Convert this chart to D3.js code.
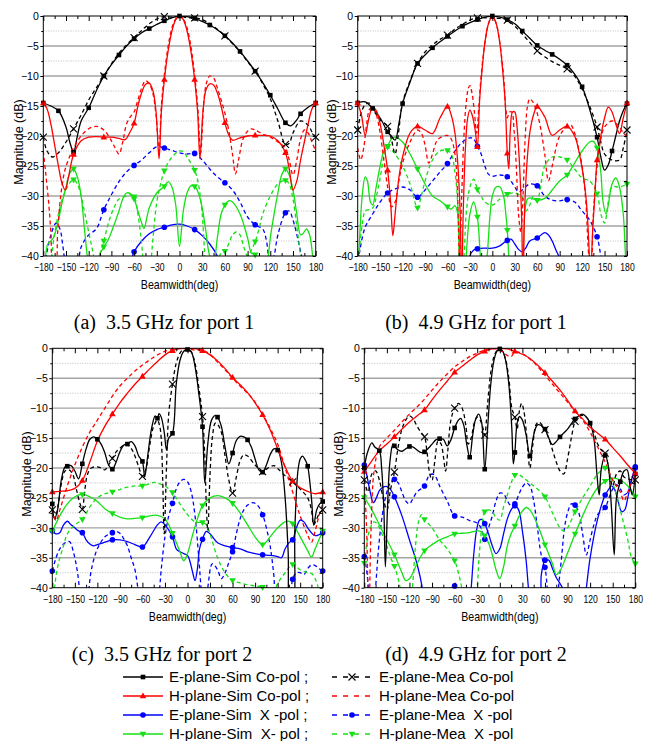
<!DOCTYPE html>
<html><head><meta charset="utf-8">
<script src="https://cdn.jsdelivr.net/npm/d3@7"></script>
<style>
html,body{margin:0;padding:0;background:#fff;}
svg{display:block;font-family:"Liberation Sans",Arial,sans-serif;}
text{white-space:pre;}
</style></head><body>
<svg id="chart" width="648" height="741"></svg>
<script>
// ---------- axis tick values ----------
const xTicks = [-180,-150,-120,-90,-60,-30,0,30,60,90,120,150,180];
const xMinorTicks = [-165,-135,-105,-75,-45,-15,15,45,75,105,135,165];
const yTicks = [0,-5,-10,-15,-20,-25,-30,-35,-40];
const yMinorTicks = [-2.5,-7.5,-12.5,-17.5,-22.5,-27.5,-32.5,-37.5];
const captions = ["(a)  3.5 GHz for port 1","(b)  4.9 GHz for port 1","(c)  3.5 GHz for port 2","(d)  4.9 GHz for port 2"];
const seriesNames = ["E-plane-Sim Co-pol ;","E-plane-Mea Co-pol","H-plane-Sim Co-pol ;","H-plane-Mea Co-pol","E-plane-Sim  X -pol ;","E-plane-Mea  X -pol","H-plane-Sim  X- pol ;","H-plane-Mea  X -pol"];

// ---------- panel (a) 3.5 GHz port 1 ----------
const a_ESimCo = [[-180,-14.5],[-170,-15],[-160,-15.8],[-150,-18.5],[-145,-21],[-140,-22.7],[-135,-20],[-130,-17.5],[-120,-15.3],[-110,-12.5],[-100,-10],[-90,-8.1],[-80,-6.5],[-70,-5],[-60,-3.8],[-50,-2.8],[-40,-2.1],[-30,-1.4],[-20,-0.8],[-10,-0.3],[0,0],[10,-0.1],[20,-0.4],[30,-0.9],[40,-1.5],[50,-2.3],[60,-3.3],[70,-4.5],[80,-5.9],[90,-7.5],[100,-9.2],[110,-11.1],[120,-13.2],[130,-15.5],[140,-17.8],[147,-18.3],[155,-17.3],[160,-16.3],[170,-15.2],[180,-14.5]];
const a_EMeaCo = [[-180,-20.2],[-175,-22.5],[-168,-23.5],[-160,-22.8],[-150,-21],[-140,-18.8],[-130,-16.5],[-120,-14],[-110,-12],[-100,-10],[-90,-8],[-80,-6.2],[-70,-4.8],[-60,-3.6],[-50,-2.4],[-40,-1.3],[-30,-0.5],[-20,-0.1],[-10,-0.2],[0,0],[10,-0.3],[20,-0.3],[30,-0.6],[40,-1.3],[50,-2.2],[60,-3.3],[70,-4.6],[80,-6],[90,-7.6],[100,-9.2],[110,-11.3],[120,-13.8],[130,-17.5],[140,-21.4],[145,-21.2],[150,-19.5],[160,-17.5],[170,-18.2],[175,-19.3],[180,-20.2]];
const a_HSimCo = [[-180,-14.5],[-175,-15.5],[-170,-18],[-165,-21.5],[-160,-25],[-155,-28],[-151,-29],[-147,-27],[-140,-23.1],[-130,-20.8],[-120,-20.2],[-110,-20.1],[-100,-20.2],[-90,-20.2],[-80,-20.4],[-72,-20.6],[-66,-19.5],[-60,-17.9],[-55,-15],[-50,-12.8],[-45,-11.4],[-40,-11.2],[-35,-12.5],[-31,-16],[-27,-23.8],[-24,-16],[-20,-10.6],[-15,-5.8],[-10,-2.5],[-5,-0.6],[0,0],[5,-0.6],[10,-2.5],[15,-5.8],[20,-10.6],[24,-16],[27,-23.8],[31,-16],[35,-12.3],[40,-11.3],[45,-11.5],[50,-12.8],[55,-15],[60,-17.8],[65,-19.8],[70,-20.7],[80,-20.3],[90,-20],[100,-19.9],[110,-19.9],[120,-20],[130,-20.8],[140,-22.8],[145,-25.5],[150,-29],[155,-27.5],[160,-24],[165,-21],[170,-18],[175,-15.5],[180,-14.5]];
const a_HMeaCo = [[-180,-22.5],[-177,-26],[-173,-31],[-170,-36],[-167,-42],[-164,-42],[-161,-36],[-157,-30],[-152,-26],[-147,-24],[-140,-22],[-130,-20],[-120,-18.8],[-110,-18.4],[-100,-19],[-90,-20.8],[-85,-22],[-80,-23],[-75,-21],[-70,-18],[-65,-16.8],[-60,-16],[-55,-14],[-50,-12],[-45,-10.8],[-40,-11.3],[-35,-13],[-31,-16.5],[-27,-22.5],[-24,-15],[-20,-9.8],[-15,-5],[-10,-2],[-5,-0.5],[0,0],[5,-0.5],[10,-2],[15,-5],[20,-9.8],[24,-15],[28,-22.8],[32,-14.5],[36,-11],[40,-10],[45,-10.3],[50,-12],[55,-14],[60,-16.2],[65,-19],[70,-23],[74,-26.3],[78,-24],[84,-20.5],[90,-19.2],[95,-18.8],[100,-19],[110,-19.7],[120,-20.2],[130,-21],[140,-22],[145,-24],[150,-26.5],[155,-24],[160,-20.5],[165,-19],[170,-19.5],[175,-21],[180,-22.5]];
const a_ESimX = [[-70,-44],[-62,-40],[-60,-39.3],[-50,-37.5],[-40,-36.3],[-30,-35.6],[-20,-35.2],[-10,-34.8],[0,-34.7],[10,-35],[20,-35.6],[30,-36.6],[40,-38],[50,-40],[55,-42],[60,-45]];
const a_EMeaX = [[-180,-44],[-176,-40],[-170,-36.5],[-163,-34.5],[-158,-35.5],[-154,-38.5],[-150,-42],[-140,-46],[-134,-42],[-130,-38.5],[-120,-36.5],[-110,-35.5],[-100,-32.3],[-90,-29.8],[-80,-27.6],[-70,-26],[-60,-24.9],[-50,-24],[-40,-22.8],[-30,-21.8],[-20,-22],[-10,-22.4],[0,-22.8],[10,-23],[20,-22.9],[30,-24],[40,-25.5],[50,-26.8],[60,-27.8],[70,-29],[80,-31],[90,-33.5],[100,-34.8],[110,-35.5],[115,-37.5],[120,-42],[125,-40],[130,-36.5],[140,-32.8],[145,-32.5],[150,-34],[157,-37.5],[163,-41],[170,-45],[180,-45]];
const a_HSimX = [[-180,-44],[-177,-40],[-174,-38],[-170,-37.5],[-166,-36.8],[-160,-34],[-155,-31],[-150,-28.5],[-145,-26.2],[-140,-25.5],[-135,-26.8],[-130,-30],[-126,-35],[-122,-40],[-118,-45],[-110,-45],[-106,-40],[-100,-38.5],[-95,-37.5],[-90,-36],[-80,-32.5],[-75,-30.5],[-70,-29.5],[-65,-29.6],[-60,-30.5],[-55,-32.5],[-50,-34.5],[-47,-35.4],[-43,-33.5],[-40,-32],[-30,-29.5],[-20,-28.4],[-15,-27.6],[-10,-28.5],[-5,-31.5],[0,-38.4],[5,-32.5],[10,-29.5],[15,-28.3],[20,-28.4],[25,-29.5],[30,-32],[35,-36],[40,-40],[45,-41],[50,-37],[55,-33],[60,-31.5],[65,-30.8],[70,-31],[80,-33],[90,-37],[95,-39.5],[100,-39.8],[105,-40.5],[112,-45],[117,-40.5],[120,-37],[125,-33],[130,-29.5],[135,-26.5],[140,-25.5],[145,-26.5],[150,-29],[155,-33],[160,-36.5],[163,-36.3],[168,-35.5],[172,-36.5],[176,-40],[180,-44]];
const a_HMeaX = [[-180,-46],[-170,-41],[-166,-37],[-160,-33],[-155,-30.5],[-150,-29],[-145,-27.8],[-140,-27.3],[-135,-28],[-130,-30],[-125,-33],[-120,-36],[-115,-39],[-110,-42],[-106,-40],[-100,-37.5],[-95,-35],[-90,-33],[-85,-31.5],[-80,-30.5],[-70,-30],[-65,-29.8],[-60,-30.1],[-55,-33],[-50,-38],[-48,-41],[-44,-45],[-38,-41],[-35,-37],[-30,-31],[-25,-28],[-20,-25.8],[-10,-23.5],[0,-22.5],[5,-22.6],[10,-23.5],[20,-25.7],[25,-28],[30,-33],[33,-39],[36,-44],[45,-44],[50,-41.5],[55,-39.5],[60,-39.2],[65,-38],[70,-36.5],[75,-36],[80,-36.5],[85,-38.5],[90,-40],[95,-39],[100,-37.6],[105,-35.5],[110,-33],[120,-30],[130,-28],[140,-27.4],[145,-28],[150,-30.5],[155,-35],[160,-40],[165,-44]];

// ---------- panel (b) 4.9 GHz port 1 ----------
const b_ESimCo = [[-180,-14.5],[-170,-14.3],[-160,-15.4],[-150,-17],[-140,-19.3],[-135,-20],[-130,-20.7],[-125,-18],[-120,-14.6],[-110,-11],[-100,-7.9],[-90,-6.5],[-80,-5.3],[-70,-4.3],[-60,-3.4],[-50,-2.5],[-40,-1.7],[-30,-1.1],[-20,-0.6],[-10,-0.2],[0,0],[10,-0.2],[20,-0.6],[30,-1.3],[40,-2.5],[50,-3.7],[60,-4.9],[70,-5.7],[80,-6.4],[90,-7.2],[100,-8.2],[110,-9.7],[120,-11.8],[130,-15.5],[140,-20.2],[145,-23.5],[150,-25.7],[155,-24.8],[160,-22.5],[165,-20],[170,-17.5],[175,-15.8],[180,-14.6]];
const b_EMeaCo = [[-180,-19],[-175,-16],[-170,-14.8],[-165,-14.5],[-160,-15.5],[-150,-17.3],[-140,-18.4],[-135,-20.5],[-130,-23],[-126,-20],[-120,-14.5],[-110,-10.8],[-100,-7.9],[-90,-6],[-80,-4.8],[-70,-3.9],[-60,-3.2],[-50,-2.2],[-40,-1.4],[-30,-0.7],[-20,-0.3],[-10,-0.3],[0,-0.4],[10,-0.4],[20,-0.7],[30,-1.7],[40,-3],[50,-4.4],[60,-5.8],[70,-6.8],[80,-7.6],[90,-8.2],[100,-8.8],[110,-10],[120,-12.2],[130,-15],[140,-18.5],[145,-21],[150,-23],[160,-24],[170,-24],[175,-22],[180,-19]];
const b_HSimCo = [[-180,-14.5],[-175,-16.5],[-170,-19.9],[-165,-17],[-160,-15.2],[-155,-15.8],[-150,-18],[-145,-21.5],[-140,-25.7],[-136,-31],[-133,-36.6],[-130,-33],[-125,-27],[-120,-23.5],[-110,-19.5],[-100,-18.4],[-90,-19],[-80,-19.6],[-70,-17],[-60,-15.1],[-55,-16.5],[-50,-19.5],[-46,-25],[-43,-33],[-41,-45],[-39,-33],[-36,-22],[-33,-17],[-30,-15.7],[-27,-16.5],[-23,-19],[-20,-21.8],[-17,-14],[-13,-8],[-10,-4.5],[-5,-1.2],[0,0],[5,-1.2],[10,-4.5],[13,-8],[17,-14],[20,-22.9],[22,-25.5],[24,-19],[27,-16],[30,-16],[33,-18.5],[36,-24],[39,-33],[41,-45],[43,-33],[46,-25],[50,-19.5],[55,-16.5],[60,-15.1],[70,-16.8],[80,-19.9],[90,-19],[100,-18.4],[110,-20],[118,-24],[125,-30],[129,-38],[131,-45],[134,-36],[137,-30],[140,-24],[145,-20],[150,-17],[155,-15.2],[160,-16],[165,-18],[170,-19.6],[175,-17],[180,-14.5]];
const b_HMeaCo = [[-180,-22],[-176,-24],[-172,-22],[-168,-18],[-164,-15.5],[-160,-15.2],[-155,-16.5],[-150,-19.5],[-145,-24],[-140,-28.5],[-135,-31.8],[-130,-31],[-125,-27.5],[-120,-24.5],[-110,-21],[-100,-19],[-95,-19.5],[-90,-21.5],[-85,-24.5],[-80,-23],[-75,-21],[-70,-20.3],[-60,-19.9],[-55,-20.5],[-50,-23],[-47,-28],[-44,-40],[-41,-30],[-38,-20],[-35,-14.5],[-32,-12],[-30,-11.6],[-27,-13],[-24,-16],[-21,-19.5],[-18,-15],[-15,-10],[-10,-4.5],[-5,-1.2],[0,0],[5,-1.2],[10,-4.5],[15,-10],[18,-15.5],[20,-17],[23,-16],[26,-16],[29,-19],[32,-25],[35,-33],[38,-36],[41,-30],[44,-20],[47,-15],[50,-13.8],[55,-14.5],[60,-16.2],[65,-19],[70,-23],[75,-27.5],[80,-25],[90,-20],[100,-18.4],[105,-18.2],[110,-19.5],[115,-22],[120,-25],[125,-31],[129,-40],[132,-42],[135,-33],[140,-25],[145,-20.5],[150,-18.5],[160,-17.5],[170,-18.5],[175,-19.5],[180,-20]];
const b_ESimX = [[-35,-45],[-30,-40],[-25,-39],[-20,-38.8],[-10,-38.7],[0,-38.7],[10,-38.3],[20,-37.4],[25,-37.2],[30,-38],[35,-38.9],[40,-39.3],[45,-38.6],[50,-37.5],[60,-37],[70,-36.1],[75,-36.5],[80,-37.5],[85,-39],[90,-40.5],[95,-45]];
const b_EMeaX = [[-180,-42],[-177,-39],[-170,-35.2],[-160,-33],[-150,-31],[-140,-29.5],[-130,-28.8],[-120,-28.5],[-110,-29],[-100,-30.2],[-90,-29],[-80,-27.5],[-70,-26],[-60,-24.6],[-50,-22.5],[-40,-21],[-30,-20.3],[-25,-20.5],[-20,-21.7],[-15,-23],[-10,-25],[-5,-26.4],[0,-26.7],[10,-26.5],[20,-26.8],[25,-27.5],[30,-28.5],[35,-29.3],[40,-29],[50,-28],[60,-28.3],[70,-30],[80,-30.7],[90,-30.8],[100,-30.6],[110,-31],[120,-32.5],[130,-34],[140,-36.8],[145,-40],[150,-44]];
const b_HSimX = [[-180,-44],[-177,-36],[-174,-30],[-170,-26.8],[-167,-27.5],[-163,-31],[-160,-31.5],[-156,-29],[-150,-25],[-145,-22.5],[-140,-21.7],[-135,-20.5],[-130,-20.2],[-120,-21],[-110,-23],[-100,-25.5],[-90,-28],[-80,-30],[-70,-30.8],[-60,-31.8],[-55,-32.2],[-50,-31.6],[-47,-32.5],[-44,-36],[-42,-45],[-38,-45],[-35,-40],[-30,-33],[-25,-31],[-20,-33.5],[-16,-40],[-12,-45],[-7,-40],[-3,-33],[0,-30],[5,-28.5],[10,-28.5],[15,-30],[18,-33],[20,-35.7],[22,-40],[25,-45],[38,-45],[41,-40],[44,-32],[47,-30.5],[50,-30.3],[60,-30.7],[70,-30.4],[80,-29],[90,-27.5],[100,-26.5],[110,-24.5],[120,-22.5],[130,-21],[135,-20.9],[140,-22],[145,-26],[148,-31],[152,-33],[155,-31.5],[160,-28],[165,-27],[170,-28.5],[175,-33],[178,-40],[180,-44]];
const b_HMeaX = [[-180,-44],[-177,-38],[-173,-34],[-170,-32.5],[-160,-32],[-155,-30],[-150,-27],[-145,-23.5],[-140,-21.8],[-135,-22.3],[-130,-23],[-120,-25],[-110,-28],[-100,-32],[-95,-30],[-90,-27.5],[-80,-24],[-70,-22.5],[-60,-22.4],[-55,-23],[-50,-26],[-46,-32],[-43,-45],[-38,-40],[-35,-33],[-30,-28.5],[-25,-27.2],[-20,-28.9],[-15,-30],[-10,-31],[0,-31.5],[10,-30.5],[20,-29.7],[30,-29.5],[40,-30.2],[45,-32.5],[50,-31.5],[55,-30],[60,-30.7],[65,-28],[70,-25],[80,-23.5],[90,-23.5],[100,-24],[110,-25.5],[120,-27],[130,-27.5],[140,-29.6],[145,-33],[150,-34.5],[155,-31],[160,-28.5],[170,-28.5],[180,-28]];

// ---------- panel (c) 3.5 GHz port 2 ----------
const c_ESimCo = [[-180,-26],[-177,-28.5],[-173,-27],[-168,-22],[-163,-19.8],[-160,-19.7],[-155,-19.6],[-150,-20.5],[-145,-21.8],[-140,-19.3],[-135,-16.8],[-130,-15.2],[-125,-14.8],[-120,-15.2],[-115,-16],[-110,-17.5],[-105,-19.5],[-100,-20.2],[-95,-19],[-90,-17.3],[-85,-16.2],[-80,-16],[-75,-15.6],[-70,-16.3],[-65,-18],[-60,-18.9],[-57,-21.5],[-53,-18],[-48,-13.5],[-43,-11.3],[-40,-11.7],[-38,-10.9],[-35,-11.5],[-31,-14],[-28,-17],[-25,-15],[-20,-14.2],[-15,-6],[-10,-2],[-5,-0.5],[0,-0.2],[5,-0.6],[10,-3],[15,-7.5],[20,-13.1],[23,-22.5],[27,-16],[32,-12],[37,-11.2],[40,-11.5],[45,-13],[50,-16.5],[55,-19.3],[60,-17.5],[65,-15.4],[70,-14.7],[75,-14.8],[80,-15.3],[85,-16.5],[90,-18.5],[95,-20.3],[100,-20.7],[105,-19.5],[110,-17.8],[115,-16.8],[120,-17],[125,-19],[130,-25],[134,-34],[137,-45],[140,-45],[143,-30],[147,-20.5],[150,-18.5],[153,-18],[157,-18.7],[160,-19.7],[165,-25],[168,-29.5],[172,-27],[176,-26],[180,-25.6]];
const c_EMeaCo = [[-180,-27],[-176,-28.5],[-172,-26],[-167,-22],[-163,-20.5],[-158,-20.3],[-153,-21],[-148,-23.5],[-143,-26],[-140,-26.9],[-137,-24],[-133,-21],[-128,-20],[-120,-19.8],[-115,-20],[-110,-20.3],[-105,-19.5],[-100,-18.4],[-95,-17.3],[-90,-16.7],[-85,-16.2],[-80,-16.1],[-75,-16.7],[-70,-18],[-65,-19.8],[-60,-21.4],[-55,-20],[-50,-16],[-45,-13],[-40,-12],[-37,-13],[-35,-15],[-33,-22],[-31,-31],[-28,-20],[-25,-11],[-20,-6],[-15,-2.5],[-10,-0.8],[-5,-0.1],[0,0],[5,-0.6],[10,-2.5],[15,-6.5],[20,-11.4],[23,-18],[25,-26],[27,-30.5],[30,-21],[33,-15],[37,-12.5],[40,-12.7],[45,-14],[50,-18],[55,-22],[60,-24.2],[65,-21.5],[70,-18.8],[75,-17.8],[80,-18],[90,-19.5],[100,-20.6],[105,-20.2],[110,-19.8],[115,-19.6],[120,-20.1],[130,-21.3],[140,-22.3],[150,-23.5],[160,-25],[165,-27],[168,-29.5],[172,-28.5],[176,-27.5],[180,-27]];
const c_HSimCo = [[-180,-24],[-170,-23.9],[-160,-23.8],[-150,-23.4],[-140,-22.1],[-130,-19],[-120,-15.5],[-110,-13],[-100,-11],[-90,-9.1],[-80,-7.5],[-70,-6],[-60,-4.7],[-50,-3.4],[-40,-2.2],[-30,-1.1],[-20,-0.4],[-10,-0.05],[0,0],[10,-0.05],[20,-0.4],[30,-1.1],[40,-2.1],[50,-3.4],[60,-4.9],[70,-6.1],[80,-7.4],[90,-9.1],[100,-11.1],[110,-13.6],[120,-16.8],[130,-19.8],[140,-22.2],[150,-23.3],[160,-23.9],[170,-24.3],[180,-24]];
const c_HMeaCo = [[-180,-27],[-175,-28.8],[-170,-27],[-160,-23],[-150,-19.5],[-140,-16.5],[-130,-14],[-120,-12],[-110,-10],[-100,-8],[-90,-6.3],[-80,-5],[-70,-3.8],[-60,-2.8],[-50,-1.9],[-40,-1.1],[-30,-0.5],[-20,-0.2],[-10,0],[0,-0.1],[10,-0.3],[20,-0.3],[30,-1],[40,-2.3],[50,-3.6],[60,-5],[70,-6.3],[80,-7.5],[90,-9],[100,-11],[110,-13.3],[120,-16],[130,-20],[140,-24],[150,-28],[160,-31.2],[165,-32.4],[170,-30.5],[175,-28],[180,-26]];
const c_ESimX = [[-180,-30.5],[-175,-31],[-170,-30.8],[-165,-29.5],[-160,-28.9],[-155,-29.5],[-150,-30],[-145,-30.5],[-140,-30.8],[-135,-32],[-130,-32.7],[-125,-33],[-120,-32.8],[-110,-32.4],[-100,-32],[-90,-32],[-80,-32.3],[-70,-32.8],[-60,-33.2],[-50,-31.5],[-40,-29.5],[-35,-29],[-30,-29.5],[-20,-31.5],[-15,-33.5],[-10,-34],[-5,-34.3],[0,-34.6],[3,-35.5],[7,-37.5],[10,-38.8],[13,-37],[16,-33.5],[20,-31.9],[25,-30.6],[30,-31],[40,-32.5],[50,-33],[60,-33.3],[70,-33.5],[80,-34],[90,-34.3],[100,-34.5],[110,-34.6],[120,-34.8],[125,-35],[130,-33.5],[135,-32.5],[140,-32],[145,-30],[150,-28.7],[155,-29],[160,-30],[170,-31.3],[180,-30.8]];
const c_EMeaX = [[-180,-37.2],[-175,-35],[-170,-33.5],[-163,-32.5],[-157,-32.3],[-152,-34],[-147,-37],[-143,-41],[-138,-46],[-132,-41],[-128,-37],[-120,-33.5],[-110,-31.5],[-100,-30.8],[-95,-30.6],[-90,-30.9],[-85,-31.8],[-80,-33],[-75,-35],[-70,-37],[-65,-41],[-60,-45],[-45,-45],[-38,-41],[-35,-37],[-30,-31.5],[-25,-28],[-20,-25.9],[-15,-23.5],[-10,-22.3],[-5,-21.9],[0,-22.3],[5,-24],[10,-28],[15,-35],[18,-40],[22,-45],[27,-40],[33,-36],[40,-37],[45,-38.5],[50,-37.5],[55,-35.8],[60,-34],[65,-31],[70,-28.5],[75,-27],[80,-26.2],[87,-25.8],[93,-26.2],[100,-27.8],[105,-30],[110,-33],[115,-38],[120,-45],[135,-45],[138,-41],[140,-38.6],[145,-37.5],[150,-37.5],[155,-37.8],[160,-36.8],[165,-36.2],[170,-36.3],[175,-36.8],[180,-37.2]];
const c_HSimX = [[-180,-30.6],[-170,-28],[-160,-26],[-150,-24.8],[-140,-24.4],[-130,-24.8],[-120,-25.6],[-110,-26.8],[-100,-27.6],[-90,-28.2],[-80,-28.5],[-70,-28.4],[-60,-28.3],[-50,-28],[-40,-27.9],[-30,-28.5],[-20,-30.9],[-10,-34],[-5,-35.5],[0,-34.3],[5,-32],[10,-29.8],[20,-26.3],[30,-25],[40,-24.6],[50,-25],[60,-25.9],[70,-27.5],[80,-29.5],[90,-31.5],[100,-32.8],[110,-31.5],[120,-30],[130,-29],[135,-28.9],[140,-29.3],[150,-31.5],[160,-33.8],[165,-34.9],[170,-33.5],[175,-32],[180,-30.5]];
const c_HMeaX = [[-180,-46],[-177,-40],[-172,-36],[-165,-33],[-160,-31],[-150,-29.5],[-140,-28.6],[-130,-26.5],[-120,-25],[-110,-24.3],[-100,-24],[-90,-23.6],[-80,-23.2],[-70,-23],[-60,-23],[-50,-22.6],[-45,-22.4],[-40,-22.5],[-30,-23],[-20,-24.1],[-10,-26],[0,-27.8],[10,-29],[20,-29.1],[25,-29.5],[30,-31],[40,-35],[50,-37.5],[60,-38.8],[70,-39.2],[80,-39.5],[90,-39.7],[100,-39.9],[110,-40.3],[115,-40.5],[120,-39.3],[130,-37.5],[140,-36.1],[150,-37],[160,-37.5],[165,-37.6],[170,-38.5],[175,-40.5],[180,-44]];

// ---------- panel (d) 4.9 GHz port 2 ----------
const d_ESimCo = [[-180,-20],[-176,-17.5],[-170,-15.8],[-166,-16.5],[-160,-17.1],[-157,-20],[-154,-27],[-152,-36.5],[-149,-26],[-146,-19],[-142,-16],[-140,-16.3],[-135,-17],[-130,-17.2],[-125,-16.8],[-120,-16.4],[-115,-16.5],[-110,-17],[-105,-17.4],[-100,-17.3],[-95,-16.7],[-90,-16],[-85,-15.3],[-80,-15.1],[-75,-15.2],[-70,-16.3],[-65,-15.3],[-60,-13.3],[-55,-12],[-52,-11.7],[-48,-12.8],[-44,-16],[-40,-18.2],[-36,-14.5],[-32,-11.8],[-28,-11],[-24,-12.5],[-20,-20.2],[-16,-13],[-12,-6],[-8,-2.2],[-4,-0.5],[0,-0.1],[4,-0.5],[8,-2.2],[12,-6],[16,-13.5],[18,-19.3],[20,-17.4],[23,-12.5],[26,-11.4],[30,-12],[35,-14.5],[40,-18],[45,-14.5],[50,-12.8],[55,-12.9],[60,-13.5],[65,-15],[70,-16.1],[75,-15.6],[80,-14.8],[90,-13.5],[100,-11.8],[110,-11],[115,-11.5],[120,-12.5],[125,-15],[129,-21],[132,-24.5],[135,-20],[140,-17.9],[144,-19.5],[148,-26],[152,-34.5],[155,-25],[160,-22.3],[165,-20.5],[169,-20.3],[173,-23],[176,-24.5],[180,-21]];
const d_EMeaCo = [[-180,-22],[-175,-24],[-170,-21],[-165,-20.5],[-160,-22],[-155,-25],[-150,-27],[-145,-23.5],[-140,-20.7],[-135,-16.5],[-130,-13.5],[-125,-12],[-120,-11.3],[-115,-11.8],[-110,-13],[-105,-14],[-100,-14.8],[-97,-17],[-93,-21],[-90,-22],[-86,-18.5],[-82,-15.5],[-78,-16],[-75,-18],[-72,-20.5],[-69,-17],[-65,-12],[-60,-10],[-55,-9.2],[-50,-10],[-45,-13],[-42,-16],[-38,-15],[-34,-12.5],[-30,-11.5],[-26,-12],[-22,-13.5],[-20,-14.5],[-16,-9],[-12,-4],[-8,-1.5],[-4,-0.4],[0,-0.2],[4,-0.6],[8,-2],[12,-5],[16,-10],[20,-11.5],[23,-13.5],[26,-10.5],[29,-9.2],[32,-10.5],[36,-15],[40,-20],[44,-16],[48,-12.8],[52,-12.3],[56,-12.8],[60,-13.6],[65,-15],[70,-17],[75,-19],[80,-20.5],[85,-21],[90,-18.5],[95,-15],[100,-12.2],[105,-11.3],[110,-11.2],[115,-11.5],[120,-12.5],[125,-14],[130,-16],[135,-17],[140,-17.5],[145,-20.5],[150,-23],[155,-21],[160,-20.5],[165,-21.5],[170,-21.8],[175,-22],[180,-22]];
const d_HSimCo = [[-180,-20.6],[-170,-18.8],[-160,-17.1],[-150,-16],[-140,-14.8],[-130,-13.5],[-120,-12.3],[-110,-11.3],[-100,-10.3],[-90,-8.6],[-80,-7],[-70,-5.5],[-60,-4],[-50,-3],[-40,-2],[-30,-1.1],[-20,-0.5],[-10,-0.1],[0,0],[10,-0.1],[20,-0.5],[30,-1],[40,-1.7],[50,-2.8],[60,-4.1],[70,-5.5],[80,-7],[90,-8.7],[100,-10.5],[110,-11.8],[120,-13.2],[130,-14.2],[140,-15.2],[150,-16.6],[160,-18],[170,-19.5],[180,-20.9]];
const d_HMeaCo = [[-180,-22],[-177,-30],[-174,-45],[-171,-30],[-167,-20.5],[-160,-16.5],[-150,-15],[-140,-13.7],[-130,-12.3],[-120,-11],[-110,-9.8],[-100,-8.5],[-90,-7],[-80,-5.6],[-70,-4.3],[-60,-3.1],[-50,-2.2],[-40,-1.4],[-30,-0.8],[-20,-0.3],[-10,0],[0,-0.3],[10,-1.2],[15,-1.4],[20,-0.6],[30,-0.9],[40,-1.8],[50,-3],[60,-4.5],[70,-6],[80,-7.5],[90,-9],[100,-10.5],[110,-12],[120,-14],[130,-16.5],[140,-19],[150,-22],[160,-24],[165,-25.5],[170,-24],[175,-22.5],[180,-21.5]];
const d_ESimX = [[-180,-19.5],[-177,-21],[-173,-23.5],[-168,-25.8],[-164,-25],[-160,-23.8],[-155,-23.2],[-150,-23.1],[-145,-23.6],[-140,-24.8],[-130,-28],[-120,-32],[-110,-36],[-103,-40],[-98,-45],[-70,-45],[-65,-40.5],[-62,-39.7],[-60,-39.7],[-57,-40.2],[-52,-45],[-42,-45],[-38,-40],[-35,-35],[-31,-30.5],[-27,-28.7],[-24,-28.6],[-20,-29.3],[-15,-31],[-10,-33],[-5,-34.3],[0,-33.5],[5,-31],[10,-28.5],[15,-27],[20,-26.3],[25,-27],[30,-30.5],[35,-35.5],[38,-40],[42,-45],[52,-45],[55,-38],[58,-36],[60,-35.4],[65,-35.4],[70,-36.8],[75,-38.3],[80,-39.3],[84,-40.3],[90,-45],[110,-45],[115,-40],[120,-35],[130,-28.5],[140,-24.5],[145,-23.5],[148,-23],[153,-23.7],[157,-25.5],[162,-27.3],[166,-27],[170,-25],[175,-22],[180,-19.8]];
const d_EMeaX = [[-180,-34.8],[-177,-37],[-174,-41],[-172,-45],[-168,-45],[-165,-40],[-160,-32],[-155,-27],[-150,-24],[-145,-22.4],[-140,-21.9],[-135,-22.5],[-130,-24],[-125,-25.5],[-120,-26],[-115,-25],[-110,-24],[-105,-23.5],[-100,-23],[-95,-21.5],[-90,-21],[-85,-21.5],[-80,-23],[-70,-25.5],[-60,-28],[-50,-28.2],[-40,-28.8],[-30,-29.2],[-25,-30],[-20,-31.9],[-15,-30],[-10,-28],[-5,-25.5],[0,-24.2],[5,-24.3],[10,-25.5],[15,-26.3],[20,-26],[25,-24.5],[30,-23.2],[35,-22.5],[40,-23],[45,-25.5],[50,-30],[55,-34.5],[60,-36.6],[63,-40],[66,-45],[75,-45],[78,-40],[82,-35],[86,-30],[90,-27.5],[95,-26],[100,-26.2],[105,-27.5],[110,-31],[115,-34.5],[120,-32],[125,-29.5],[130,-27.8],[140,-26.6],[145,-25],[150,-23.5],[155,-22.8],[160,-23.5],[165,-24.5],[170,-24],[175,-22],[180,-20]];
const d_HSimX = [[-180,-24.9],[-170,-27],[-160,-29.5],[-150,-32],[-140,-34.5],[-130,-37.5],[-125,-38.8],[-120,-38.5],[-110,-36],[-100,-33.8],[-90,-32.8],[-80,-32],[-70,-31.5],[-60,-31],[-50,-30.9],[-40,-30.8],[-30,-30.5],[-25,-30.6],[-20,-31.3],[-15,-32.5],[-10,-34.5],[-5,-37],[0,-38.5],[5,-36.5],[10,-33],[15,-31],[20,-29.7],[25,-28.2],[30,-27.2],[35,-26.6],[40,-27],[50,-29.5],[60,-32.8],[70,-36],[75,-37.8],[80,-37.2],[90,-34.2],[100,-31],[110,-28],[120,-25.3],[130,-23.3],[140,-22.2],[150,-21.7],[160,-22],[170,-23],[180,-24.8]];
const d_HMeaX = [[-180,-35.9],[-176,-32],[-172,-30],[-167,-29],[-162,-29.5],[-155,-31.5],[-150,-33],[-145,-35],[-140,-36.4],[-135,-38.5],[-131,-41],[-127,-45],[-120,-45],[-116,-40],[-112,-33],[-108,-29],[-104,-27.8],[-100,-28.6],[-90,-30],[-80,-32],[-70,-33.5],[-60,-35.5],[-55,-37.5],[-50,-40.5],[-46,-45],[-34,-45],[-30,-40],[-27,-34],[-23,-29],[-20,-27.3],[-15,-27],[-10,-27.3],[-5,-28.3],[0,-28.7],[5,-26.5],[10,-24.5],[15,-22.5],[20,-21.2],[25,-21.1],[30,-21.5],[40,-22.5],[50,-23.5],[60,-24.8],[70,-27.5],[80,-30],[85,-30.5],[90,-30],[100,-27.3],[110,-25],[120,-23],[130,-21],[140,-20],[145,-20.8],[150,-22.5],[155,-24.5],[160,-27],[170,-32],[175,-35],[180,-36]];

// ---------- styles (separate from data) ----------
const GREEN = "#14e014", BLUE = "#0000ff", RED = "#ff0000", BLACK = "#000000";
const styles = [
  {color:BLACK, dash:null,  marker:"square", step:20},
  {color:BLACK, dash:"4,3", marker:"x",      step:40},
  {color:RED,   dash:null,  marker:"tri",    step:40},
  {color:RED,   dash:"4,3", marker:null,     step:40},
  {color:BLUE,  dash:null,  marker:"circle", step:40},
  {color:BLUE,  dash:"4,3", marker:"circle", step:40},
  {color:GREEN, dash:null,  marker:"tridown",step:40},
  {color:GREEN, dash:"4,3", marker:"tridown",step:40}
];
const panelSeries = [
  [a_ESimCo,a_EMeaCo,a_HSimCo,a_HMeaCo,a_ESimX,a_EMeaX,a_HSimX,a_HMeaX],
  [b_ESimCo,b_EMeaCo,b_HSimCo,b_HMeaCo,b_ESimX,b_EMeaX,b_HSimX,b_HMeaX],
  [c_ESimCo,c_EMeaCo,c_HSimCo,c_HMeaCo,c_ESimX,c_EMeaX,c_HSimX,c_HMeaX],
  [d_ESimCo,d_EMeaCo,d_HSimCo,d_HMeaCo,d_ESimX,d_EMeaX,d_HSimX,d_HMeaX]
];
const layout = [
  {l:43.3, r:315.7, t:16,   b:256,   ylabX:19,  capX:164, capY:329, xlabY:289},
  {l:357.7,r:627,   t:16,   b:256,   ylabX:332, capX:476, capY:329, xlabY:289},
  {l:52.3, r:322.7, t:348.3,b:587.7, ylabX:27,  capX:162, capY:661, xlabY:621},
  {l:364.3,r:635.3, t:348.3,b:587.7, ylabX:339, capX:476, capY:661, xlabY:621}
];
const order = [4,5,6,7,0,1,2,3];

const svg = d3.select("#chart");

function drawMarker(g, type, x, y, color){
  if(type==="square") g.append("rect").attr("x",x-2.3).attr("y",y-2.3).attr("width",4.6).attr("height",4.6).attr("fill",color);
  else if(type==="tri") g.append("path").attr("d",`M${x},${y-3.6}L${x+3.3},${y+2.2}L${x-3.3},${y+2.2}Z`).attr("fill",color);
  else if(type==="tridown") g.append("path").attr("d",`M${x},${y+3.6}L${x+3.3},${y-2.2}L${x-3.3},${y-2.2}Z`).attr("fill",color);
  else if(type==="circle") g.append("circle").attr("cx",x).attr("cy",y).attr("r",2.8).attr("fill",color);
  else if(type==="x") g.append("path").attr("d",`M${x-3.5},${y-3.5}L${x+3.5},${y+3.5}M${x-3.5},${y+3.5}L${x+3.5},${y-3.5}`).attr("stroke",color).attr("stroke-width",1.1).attr("fill","none");
}

layout.forEach((L, pi) => {
  const x = d3.scaleLinear().domain([-180,180]).range([L.l, L.r]);
  const y = d3.scaleLinear().domain([-40,0]).range([L.b, L.t]);
  const g = svg.append("g");

  // grid
  g.append("g").selectAll("line").data(yMinorTicks).join("line")
    .attr("x1",L.l).attr("x2",L.r).attr("y1",d=>y(d)).attr("y2",d=>y(d))
    .attr("stroke","#bdbdbd").attr("stroke-width",1).attr("stroke-dasharray","1,1.5");
  g.append("g").selectAll("line").data(yTicks.filter(v=>v<0&&v>-40)).join("line")
    .attr("x1",L.l).attr("x2",L.r).attr("y1",d=>y(d)).attr("y2",d=>y(d))
    .attr("stroke","#a3a3a3").attr("stroke-width",1.4);

  // clip
  const cid = "clip"+pi;
  svg.append("clipPath").attr("id",cid).append("rect").attr("x",L.l).attr("y",L.t).attr("width",L.r-L.l).attr("height",L.b-L.t);
  const line = d3.line().x(d=>x(d[0])).y(d=>y(d[1])).curve(d3.curveCatmullRom.alpha(0.5));
  const sg = g.append("g").attr("clip-path",`url(#${cid})`);
  order.forEach(si => {
    const st = styles[si];
    sg.append("path").datum(panelSeries[pi][si]).attr("d",line)
      .attr("fill","none").attr("stroke",st.color).attr("stroke-width",1.3)
      .attr("stroke-dasharray",st.dash);
  });
  const mg = g.append("g");
  order.forEach(si => {
    const st = styles[si];
    if(!st.marker) return;
    panelSeries[pi][si].filter(d => ((d[0]+180) % st.step === 0) && d[1] >= -40.3 && d[1] <= 0.3)
      .forEach(d => drawMarker(mg, st.marker, x(d[0]), y(d[1]), st.color));
  });

  // axes
  const ax = g.append("g").attr("font-family","Liberation Sans, Arial, sans-serif");
  const bottom = ax.append("g").attr("transform",`translate(0,${L.b})`)
    .call(d3.axisBottom(x).tickValues(xTicks).tickSize(-5).tickPadding(8).tickFormat(d3.format("d")));
  bottom.selectAll("text").attr("font-size",10.5).attr("fill","#000").attr("transform","scale(0.82,1)");
  ax.append("g").attr("transform",`translate(0,${L.b})`).call(d3.axisBottom(x).tickValues(xMinorTicks).tickSize(-3).tickFormat(""));
  ax.append("g").attr("transform",`translate(0,${L.t})`).call(d3.axisTop(x).tickValues(xTicks).tickSize(-5).tickFormat(""));
  ax.append("g").attr("transform",`translate(0,${L.t})`).call(d3.axisTop(x).tickValues(xMinorTicks).tickSize(-3).tickFormat(""));
  const left = ax.append("g").attr("transform",`translate(${L.l},0)`)
    .call(d3.axisLeft(y).tickValues(yTicks).tickSize(3).tickPadding(1.5).tickFormat(d3.format("d")));
  left.selectAll("text").attr("font-size",10.5).attr("fill","#000");
  ax.append("g").attr("transform",`translate(${L.l},0)`).call(d3.axisLeft(y).tickValues(yMinorTicks).tickSize(2).tickFormat(""));
  ax.append("g").attr("transform",`translate(${L.r},0)`).call(d3.axisRight(y).tickValues(yTicks.concat(yMinorTicks)).tickSize(-3).tickFormat(""));
  ax.selectAll(".domain").remove();
  ax.selectAll("line").attr("stroke","#000");
  g.append("rect").attr("x",L.l).attr("y",L.t).attr("width",L.r-L.l).attr("height",L.b-L.t)
    .attr("fill","none").attr("stroke","#000").attr("stroke-width",1);

  // titles
  const xc = (L.l+L.r)/2, yc = (L.t+L.b)/2;
  g.append("text").attr("x",0).attr("y",0).attr("text-anchor","middle").attr("font-size",12.5)
    .attr("transform",`translate(${xc},${L.xlabY}) scale(0.85,1)`).text("Beamwidth(deg)");
  g.append("text").attr("text-anchor","middle").attr("font-size",12.5)
    .attr("transform",`translate(${L.ylabX+4},${yc+6}) rotate(-90)`).text("Magnitude (dB)");
  g.append("text").attr("x",L.capX).attr("y",L.capY).attr("text-anchor","middle")
    .attr("font-family","Liberation Serif, Times New Roman, serif").attr("font-size",20).text(captions[pi]);
});

// ---------- legend ----------
const lg = svg.append("g");
const rowY = [677, 696, 715, 734];
for(let r=0;r<4;r++){
  const s1 = styles[2*r], s2 = styles[2*r+1];
  const yy = rowY[r];
  lg.append("line").attr("x1",123).attr("x2",163).attr("y1",yy).attr("y2",yy).attr("stroke",s1.color).attr("stroke-width",1.3);
  drawMarker(lg, s1.marker, 143, yy, s1.color);
  lg.append("text").attr("x",169).attr("y",yy+5).attr("font-size",15).text(seriesNames[2*r]);
  lg.append("line").attr("x1",332).attr("x2",375).attr("y1",yy).attr("y2",yy).attr("stroke",s2.color).attr("stroke-width",1.3).attr("stroke-dasharray","5,6");
  if(s2.marker) drawMarker(lg, s2.marker, 352, yy, s2.color);
  lg.append("text").attr("x",379).attr("y",yy+5).attr("font-size",15).text(seriesNames[2*r+1]);
}
</script></body></html>
